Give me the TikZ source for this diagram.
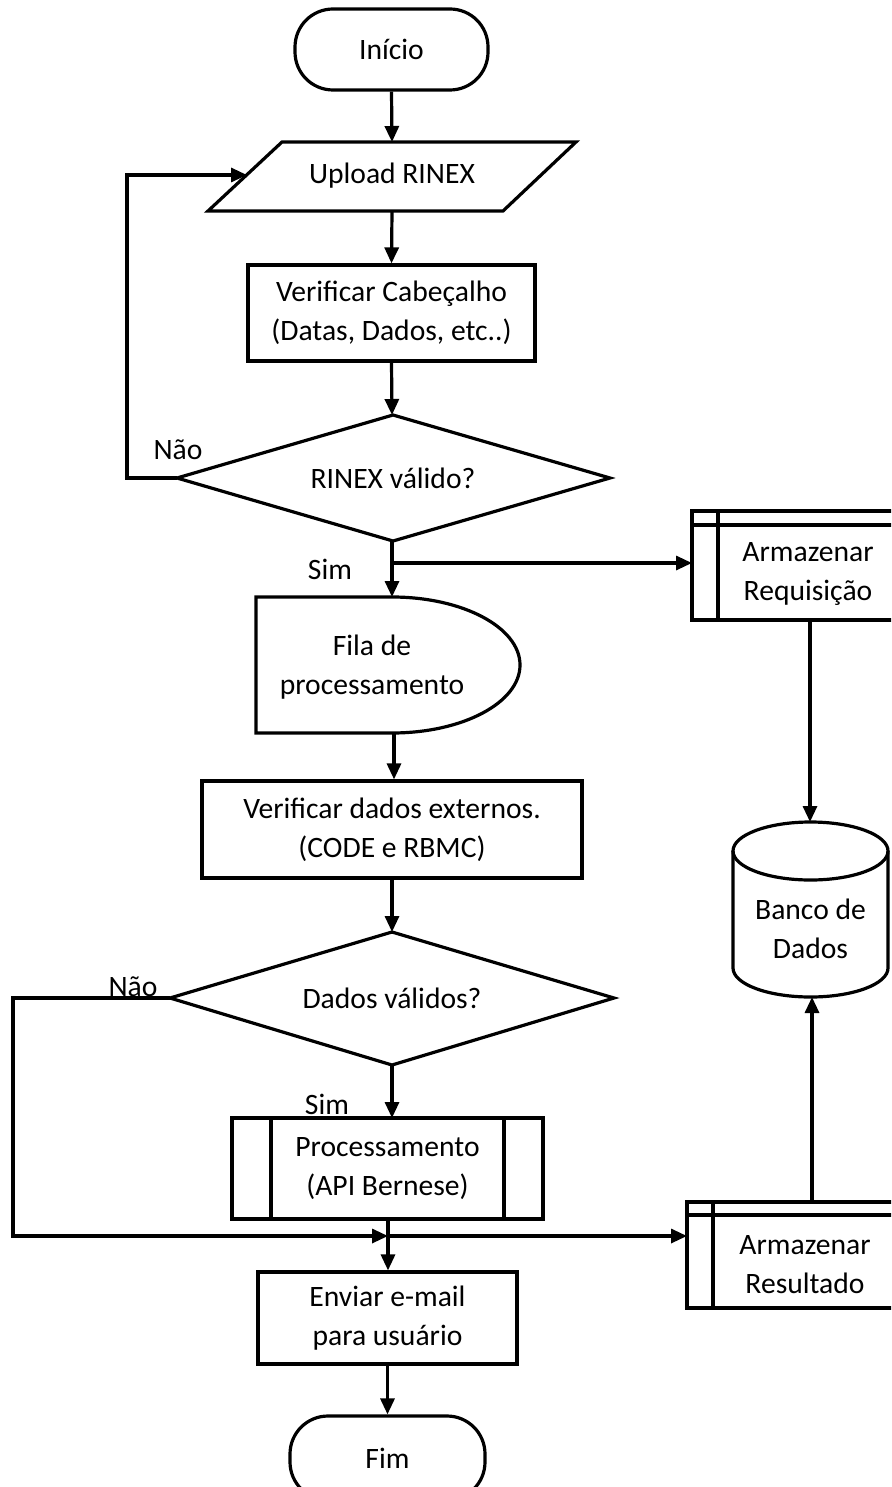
\documentclass[tikz,border=0pt]{standalone}
\usepackage{fontspec}
\setmainfont{Carlito}
\usetikzlibrary{arrows.meta}
\begin{document}
\begin{tikzpicture}[x=1pt,y=-1pt,line width=3.2pt,line join=miter,
  lbl/.style={font=\fontsize{29.6}{39}\selectfont, align=center, inner sep=0pt},
  box/.style={draw, rectangle, line width=3.2pt, inner sep=0pt, align=center, font=\fontsize{29.6}{39}\selectfont},
  term/.style={box, rounded corners=38pt},
  conn/.style={-{Triangle[length=16pt,width=14pt]}, line width=3.2pt},
  plain/.style={line width=3.2pt}]
\clip (0,0) rectangle (891,1487);
\fill[white] (0,0) rectangle (891,1487);

% Inicio
\node[term, minimum width=193pt, minimum height=81pt] (ini) at (391.5,49.5) {Início};

% Upload RINEX (parallelogram)
\draw (282,142) -- (576,142) -- (503,211) -- (208,211) -- cycle;
\node[lbl] (up) at (392,176) {Upload RINEX};
\coordinate (upN) at (392,142);
\coordinate (upS) at (392,211);
\coordinate (upW) at (247,175);

% Verificar Cabecalho
\node[box, minimum width=287pt, minimum height=96pt] (cab) at (391.5,313) {Verificar Cabeçalho\\(Datas, Dados, etc..)};

% RINEX valido diamond
\draw (177,478) -- (393,415) -- (610,478) -- (393,541) -- cycle;
\node[lbl] (rin) at (393,478) {RINEX válido?};
\coordinate (rinN) at (392,415);
\coordinate (rinS) at (392,541);
\coordinate (rinW) at (177,478);
\node[lbl] (nao1) at (178,450) {Não};
\node[lbl] (sim1) at (330,569) {Sim};

% Armazenar Requisicao (internal storage)
\draw (692,511) rectangle (905,620);
\draw (692,525) -- (905,525);
\draw (718,511) -- (718,620);
\node[lbl] (areq) at (808,574) {Armazenar\\Requisição};
\coordinate (areqW) at (692,563);
\coordinate (areqS) at (810,620);

% Fila de processamento (delay)
\draw (256,597) -- (392,597) .. controls (462.7,597) and (520,627.4) .. (520,665)
      .. controls (520,702.6) and (462.7,733) .. (392,733) -- (256,733) -- cycle;
\node[lbl] (fila) at (372,667) {Fila de\\processamento};
\coordinate (filaN) at (392,597);
\coordinate (filaS) at (394,733);

% Verificar dados externos
\node[box, minimum width=380pt, minimum height=97pt] (ver) at (392,829.5) {Verificar dados externos.\\(CODE e RBMC)};

% Banco de Dados (cylinder)
\draw (733,851) .. controls (733,835) and (767.7,822) .. (810.5,822)
      .. controls (853.3,822) and (888,835) .. (888,851)
      .. controls (888,867) and (853.3,880) .. (810.5,880)
      .. controls (767.7,880) and (733,867) .. (733,851) -- cycle;
\draw (733,851) -- (733,968) .. controls (733,984) and (767.7,997) .. (810.5,997)
      .. controls (853.3,997) and (888,984) .. (888,968) -- (888,851);
\node[lbl] (db) at (810.5,929) {Banco de\\Dados};
\coordinate (dbN) at (810,822);
\coordinate (dbS) at (812,997);

% Dados validos diamond
\draw (170,998) -- (392,932) -- (614,998) -- (392,1065) -- cycle;
\node[lbl] (dad) at (392,998) {Dados válidos?};
\coordinate (dadN) at (392,932);
\coordinate (dadS) at (392,1065);
\coordinate (dadW) at (170,998);
\node[lbl] (nao2) at (133,987) {Não};
\node[lbl] (sim2) at (327,1104) {Sim};

% Processamento (predefined process)
\node[box, minimum width=311pt, minimum height=101pt] (proc) at (387.5,1168.5) {Processamento\\(API Bernese)};
\draw (271,1118) -- (271,1219);
\draw (504,1118) -- (504,1219);
\coordinate (procN) at (392,1118);
\coordinate (procS) at (388,1219);

% Armazenar Resultado (internal storage)
\draw (687,1202) rectangle (905,1308);
\draw (687,1215) -- (905,1215);
\draw (713,1202) -- (713,1308);
\node[lbl] (ares) at (805,1265) {Armazenar\\Resultado};
\coordinate (aresW) at (687,1236);
\coordinate (aresN) at (812,1202);

% Enviar e-mail
\node[box, minimum width=259pt, minimum height=92pt] (env) at (387.5,1318) {Enviar e-mail\\para usuário};

% Fim
\node[term, minimum width=195pt, minimum height=84pt] (fim) at (387.5,1458) {Fim};

% junction / helper coordinates
\coordinate (br) at (392,563);
\coordinate (jn) at (388,1236);
\coordinate (loopA) at (127,478);
\coordinate (loopB) at (127,175);
\coordinate (leftA) at (13,998);
\coordinate (leftB) at (13,1236);

% connectors
\draw[conn] (ini.south) -- (upN);
\draw[conn] (upS) -- (cab.south |- cab.north);
\draw[conn] (cab.south) -- (rinN);
\draw[conn] (rinS) -- (filaN);
\draw[conn] (br) -- (areqW);
\draw[conn] (rinW) -- (loopA) -- (loopB) -- (upW);
\draw[conn] (filaS) -- (filaS |- ver.north);
\draw[conn] (ver.south) -- (dadN);
\draw[conn] (dadS) -- (procN);
\draw[conn] (dadW) -- (leftA) -- (leftB) -- (jn);
\draw[conn] (procS) -- (procS |- env.north);
\draw[conn] (jn) -- (aresW);
\draw[conn] (env.south) -- (fim.north);
\draw[conn] (areqS) -- (dbN);
\draw[conn] (aresN) -- (dbS);
\end{tikzpicture}
\end{document}
